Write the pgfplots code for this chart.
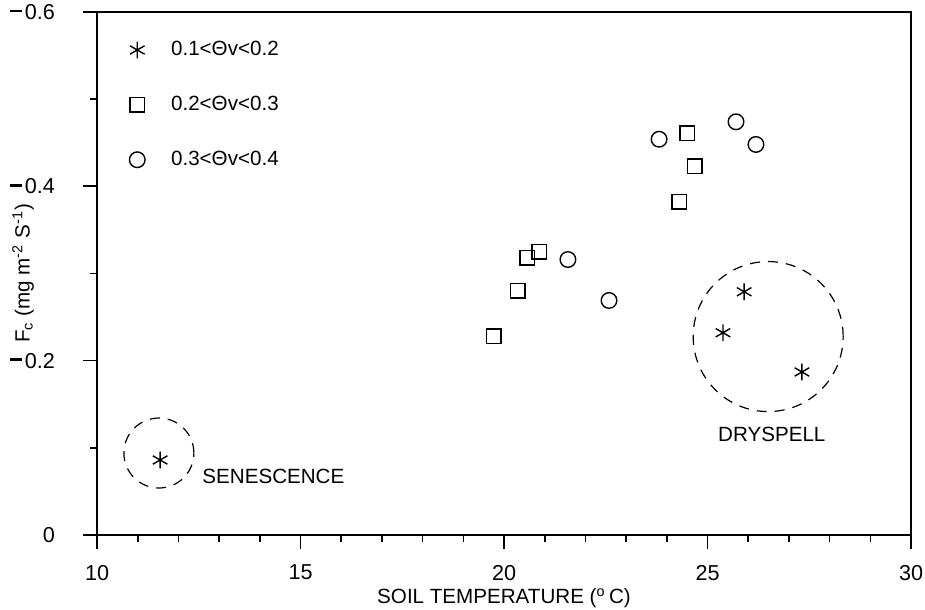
\documentclass[border=0pt]{standalone}
\usepackage{fontspec}
\setmainfont{Liberation Sans}
\usepackage{pgfplots}
\pgfplotsset{compat=1.18}
\newcommand{\dsh}{\rule[0.33em]{6pt}{1.3pt}\hspace{1.3pt}}
\begin{document}
\begin{tikzpicture}
\begin{axis}[
  scale only axis, width=407pt, height=261.5pt,
  xmin=10, xmax=30, ymin=0, ymax=0.6,
  xtick={10,15,20,25,30}, ytick={0,0.2,0.4,0.6},
  yticklabels={0,\dsh 0.2,\dsh 0.4,\dsh 0.6},
  minor x tick num=4, minor y tick num=1,
  tick align=outside, tick pos=left,
  major tick length=7pt, minor tick length=3.5pt,
  axis line style={line width=0.8pt},
  every tick/.style={black, line width=0.8pt},
  font=\fontsize{10.3}{12}\selectfont,
  yticklabel style={xshift=-10.5pt, font=\fontsize{10.8}{12}\selectfont},
  xticklabel style={yshift=-4.5pt, font=\fontsize{10.8}{12}\selectfont},
  /pgf/number format/assume math mode=true,
  xlabel={SOIL TEMPERATURE (\textsuperscript{o}\,C)},
  ylabel={F\textsubscript{c} (mg m\textsuperscript{-2} S\textsuperscript{-1})},
  xlabel style={at={(axis description cs:0.5,-0.1205)}, anchor=center},
  ylabel style={at={(axis description cs:-0.0909,0.5)}, anchor=center},
  legend style={at={(axis description cs:0.032,0.96)}, anchor=north west, draw=none, fill=none,
    row sep=14.75pt, font=\fontsize{10.3}{12}\selectfont,
    /tikz/every odd column/.append style={column sep=11pt}},
  legend cell align=left,
]
\addplot[only marks, mark=asterisk, mark size=4.2pt, line width=0.7pt] coordinates {
  (11.55,0.086) (25.90,0.279) (25.38,0.232) (27.32,0.187)};
\addlegendentry{0.1<Θv<0.2}
\addplot[only marks, mark=square, mark size=3.6pt, line width=0.7pt] coordinates {
  (19.75,0.228) (20.34,0.280) (20.57,0.318) (20.86,0.325) (24.30,0.382) (24.50,0.461) (24.69,0.423)};
\addlegendentry{0.2<Θv<0.3}
\addplot[only marks, mark=o, mark size=3.9pt, line width=0.7pt] coordinates {
  (21.57,0.316) (22.58,0.269) (23.81,0.454) (25.70,0.474) (26.19,0.448)};
\addlegendentry{0.3<Θv<0.4}
\draw[line width=0.6pt, dash pattern=on 5pt off 4pt] (axis cs:26.49,0.2276) circle[radius=37.5pt];
\draw[line width=0.6pt, dash pattern=on 5pt off 4pt] (axis cs:11.52,0.094) circle[radius=17.5pt];
\node[anchor=west, inner sep=0pt] at (axis cs:12.58,0.0667) {SENESCENCE};
\node[anchor=center, inner sep=0pt] at (axis cs:26.58,0.115) {DRYSPELL};
\coordinate (bbl) at (axis description cs:-0.1192,-0.1434);
\coordinate (btr) at (axis description cs:1.0172,1.0229);
\end{axis}
\pgfresetboundingbox
\useasboundingbox (bbl) rectangle (btr);
\end{tikzpicture}
\end{document}
